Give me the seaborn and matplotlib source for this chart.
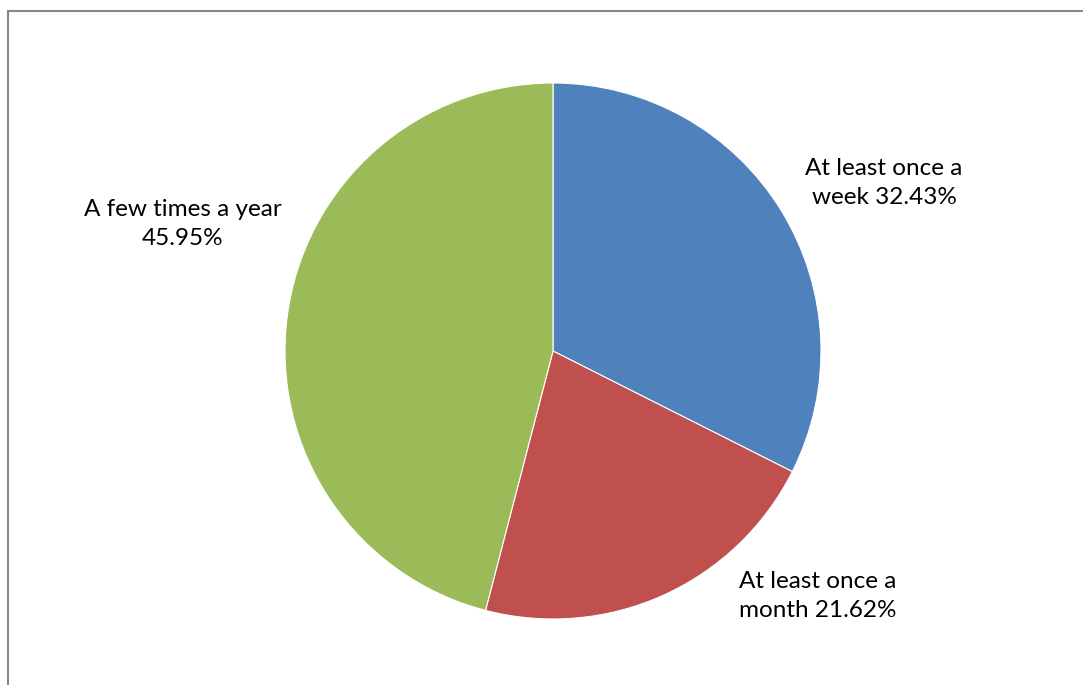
import matplotlib
matplotlib.use('Agg')
import matplotlib.pyplot as plt
import matplotlib.patches as mpatches
import seaborn as sns

# Pie data
categories = ['At least once a\nweek', 'At least once a\nmonth', 'A few times a year\n']
shares = [32.43, 21.62, 45.95]
colors = ['#4F81BD', '#C0504D', '#9BBB59']
# label centres in pixel space (x, y from top)
label_pos = [(884, 183), (818, 596), (183, 224)]

sns.set_theme(style='white')
plt.rcParams['font.family'] = ['Lato', 'DejaVu Sans']

W, H = 1083, 685
fig = plt.figure(figsize=(W / 100, H / 100), dpi=100)
ax = fig.add_axes([0, 0, 1, 1])

ax.pie(shares, colors=colors, startangle=90, counterclock=False,
       center=(553, H - 351), radius=268, frame=True,
       wedgeprops={'edgecolor': 'white', 'linewidth': 0.8})
ax.set_xlim(0, W)
ax.set_ylim(0, H)
ax.set_aspect('equal')
ax.axis('off')

for cat, val, (x, y) in zip(categories, shares, label_pos):
    ax.text(x, H - y, f'{cat} {val:.2f}%'.replace('\n ', '\n'),
            ha='center', va='center', fontsize=17.5, linespacing=1.45, color='black')

# chart area border (left + top visible)
fig.patches.append(mpatches.Rectangle((8 / W, -0.1), 1.2, 1.1 - 11 / H,
                                      transform=fig.transFigure, fill=False,
                                      edgecolor='#878787', linewidth=1.5))

fig.savefig('out.png', dpi=100)
